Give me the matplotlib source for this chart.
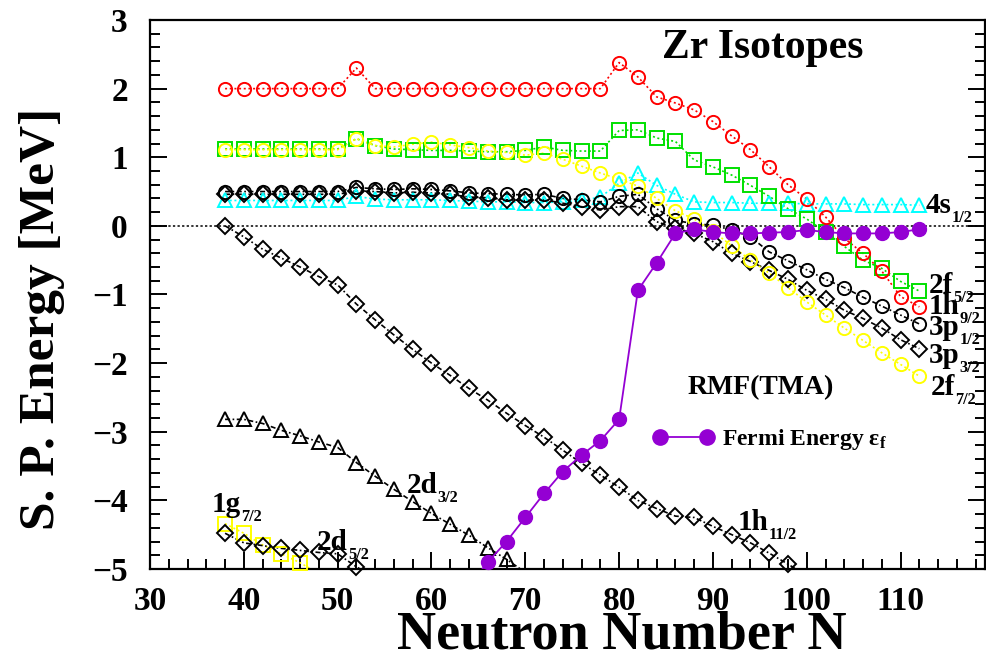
import numpy as np
import matplotlib
matplotlib.use("Agg")
import matplotlib.pyplot as plt

plt.rcParams["font.family"] = ["Liberation Serif", "DejaVu Serif"]
plt.rcParams["font.weight"] = "bold"
plt.rcParams["axes.labelweight"] = "bold"
plt.rcParams["mathtext.fontset"] = "custom"
plt.rcParams["mathtext.rm"] = "Liberation Serif:bold"
plt.rcParams["mathtext.it"] = "Liberation Serif:bold"
plt.rcParams["mathtext.bf"] = "Liberation Serif:bold"

# neutron numbers of the calculated isotopes
N_all = [38, 40, 42, 44, 46, 48, 50, 52, 54, 56, 58, 60, 62, 64, 66, 68, 70, 72, 74,
         76, 78, 80, 82, 84, 86, 88, 90, 92, 94, 96, 98, 100, 102, 104, 106, 108, 110, 112]

e_1h92 = [2.00, 2.00, 2.00, 2.00, 2.00, 2.00, 2.00, 2.30, 2.00, 2.00, 2.00, 2.00, 2.00,
          2.00, 2.00, 2.00, 2.00, 2.00, 2.00, 2.00, 2.00, 2.38, 2.17, 1.88, 1.79, 1.69,
          1.52, 1.31, 1.11, 0.86, 0.60, 0.39, 0.13, -0.18, -0.40, -0.66, -1.03, -1.18]
e_2f52 = [1.12, 1.12, 1.12, 1.12, 1.12, 1.12, 1.12, 1.27, 1.17, 1.12, 1.11, 1.10, 1.10,
          1.09, 1.08, 1.08, 1.10, 1.15, 1.10, 1.09, 1.09, 1.39, 1.40, 1.28, 1.23, 0.96,
          0.86, 0.74, 0.59, 0.43, 0.25, 0.10, -0.09, -0.30, -0.50, -0.62, -0.81, -0.95]
e_2f72 = [1.11, 1.11, 1.11, 1.11, 1.11, 1.11, 1.11, 1.27, 1.17, 1.15, 1.19, 1.22, 1.18,
          1.14, 1.09, 1.07, 1.03, 1.06, 0.97, 0.87, 0.77, 0.68, 0.58, 0.40, 0.22, 0.10,
          -0.08, -0.29, -0.50, -0.69, -0.90, -1.11, -1.30, -1.49, -1.67, -1.85, -2.02, -2.19]
e_4s12 = [0.37, 0.37, 0.37, 0.37, 0.37, 0.37, 0.37, 0.43, 0.39, 0.38, 0.38, 0.38, 0.37,
          0.36, 0.35, 0.35, 0.34, 0.34, 0.35, 0.37, 0.42, 0.62, 0.77, 0.59, 0.46, 0.35,
          0.34, 0.34, 0.33, 0.33, 0.33, 0.32, 0.32, 0.32, 0.31, 0.31, 0.31, 0.30]
e_3p12 = [0.50, 0.50, 0.50, 0.50, 0.50, 0.50, 0.50, 0.56, 0.54, 0.53, 0.54, 0.53, 0.51,
          0.48, 0.47, 0.46, 0.45, 0.46, 0.40, 0.38, 0.35, 0.43, 0.46, 0.25, 0.08, 0.03,
          0.01, -0.06, -0.16, -0.38, -0.51, -0.64, -0.78, -0.90, -1.04, -1.17, -1.30, -1.43]
e_3p32 = [0.46, 0.46, 0.46, 0.46, 0.46, 0.46, 0.46, 0.51, 0.50, 0.48, 0.49, 0.48, 0.46,
          0.42, 0.41, 0.38, 0.37, 0.38, 0.33, 0.28, 0.23, 0.28, 0.28, 0.06, -0.03, -0.11,
          -0.23, -0.40, -0.52, -0.65, -0.78, -0.94, -1.07, -1.23, -1.35, -1.49, -1.66, -1.79]

N_1h112 = N_all[:32]
e_1h112 = [0.00, -0.16, -0.34, -0.47, -0.60, -0.74, -0.86, -1.14, -1.37, -1.59, -1.80,
           -2.00, -2.18, -2.37, -2.54, -2.73, -2.91, -3.08, -3.27, -3.46, -3.63, -3.81,
           -4.00, -4.12, -4.23, -4.25, -4.38, -4.50, -4.62, -4.77, -4.93, -5.10]
N_2d32 = N_all[:17]
e_2d32 = [-2.82, -2.82, -2.88, -2.98, -3.06, -3.15, -3.23, -3.45, -3.65, -3.84, -4.02,
          -4.19, -4.35, -4.51, -4.69, -4.86, -5.05]
N_1g72 = N_all[:6]
e_1g72 = [-4.34, -4.48, -4.65, -4.78, -4.91, -5.07]
N_2d52 = N_all[:9]
e_2d52 = [-4.48, -4.62, -4.66, -4.70, -4.73, -4.76, -4.78, -4.97, -5.12]

N_fermi = N_all[13:]
e_fermi = [-5.25, -4.90, -4.60, -4.25, -3.90, -3.58, -3.34, -3.13, -2.82, -0.94, -0.54,
           -0.11, -0.05, -0.09, -0.11, -0.11, -0.10, -0.09, -0.06, -0.09, -0.11, -0.11,
           -0.11, -0.09, -0.05]

YMIN, YMAX = -5, 3

fig = plt.figure(figsize=(9.87, 6.67), dpi=100)
ax = fig.add_axes([0.152, 0.147, 0.846, 0.823])


def level(x, y, color, marker, ls, ms=9.5):
    x = np.asarray(x)
    y = np.asarray(y)
    ax.plot(x, y, color=color, ls=ls, lw=1.2, zorder=2)
    inside = (y >= YMIN - 0.02) & (y <= YMAX)
    ax.plot(x[inside], y[inside], ls="none", marker=marker, ms=ms, mfc="none",
            mec=color, mew=1.4, clip_on=False, zorder=3)


dots = (0, (1.2, 1.6))
dashdot = (0, (3, 1.5, 1, 1.5))

ax.axhline(0, color="black", ls=(0, (1.5, 1.5)), lw=1.1, zorder=1)

level(N_1g72, e_1g72, "#ffff00", "s", dots)
level(N_2d52, e_2d52, "black", "D", dashdot, ms=8)
level(N_2d32, e_2d32, "black", "^", dashdot, ms=10)
level(N_1h112, e_1h112, "black", "D", dashdot, ms=8)
level(N_all, e_4s12, "#00ffff", "^", dots, ms=10)
level(N_all, e_3p32, "black", "D", dashdot, ms=8)
level(N_all, e_3p12, "black", "o", dashdot)
level(N_all, e_2f52, "#00e000", "s", dots)
level(N_all, e_2f72, "#ffff00", "o", dots)
level(N_all, e_1h92, "#ff0000", "o", dots)

fx = np.asarray(N_fermi)
fy = np.asarray(e_fermi)
ax.plot(fx, fy, color="#9400d3", lw=1.3, zorder=4)
ok = fy >= YMIN
ax.plot(fx[ok], fy[ok], ls="none", marker="o", ms=10, color="#9400d3",
        clip_on=False, zorder=5)
fermi_handle, = ax.plot([], [], color="#9400d3", lw=1.3, marker="o", ms=11)

ax.legend([fermi_handle], ["Fermi Energy \u03b5$_\\mathregular{f}$"], loc="center left",
          bbox_to_anchor=(0.602, 0.235), frameon=False, numpoints=2, fontsize=17,
          handlelength=2.6, handletextpad=0.35, borderpad=0, borderaxespad=0)

ax.set_xlim(30, 119)
ax.set_ylim(YMIN, YMAX)
ax.set_xticks(range(30, 120, 10))
ax.set_xticks(range(30, 120, 2), minor=True)
ax.set_yticks(range(-5, 4))
ax.set_yticks(np.arange(-5, 3.01, 0.2), minor=True)
ax.tick_params(which="both", direction="in", right=True, top=False, width=1.4,
               labelsize=24)
ax.tick_params(which="major", length=12)
ax.tick_params(which="minor", length=7)
ax.tick_params(axis="x", pad=12)
ax.tick_params(axis="y", pad=16)
for s in ax.spines.values():
    s.set_linewidth(1.6)

ax.set_xlabel("Neutron Number N", fontsize=39, fontweight="bold")
ax.set_ylabel("S. P. Energy [MeV]", fontsize=37, fontweight="bold")
ax.xaxis.label.set_va("center")
ax.yaxis.label.set_va("center")
ax.xaxis.set_label_coords(0.565, -0.122)
ax.yaxis.set_label_coords(-0.129, 0.455)

ax.text(84.6, 2.45, "Zr Isotopes", fontsize=30)
ax.text(87.3, -2.45, "RMF(TMA)", fontsize=20)

renderer = fig.canvas.get_renderer()


def level_label(x, y, base, sub, size=21):
    t = ax.text(x, y, base, fontsize=size, va="baseline")
    w = t.get_window_extent(renderer=renderer).width * 72 / fig.dpi
    ax.annotate(sub, (x, y), xytext=(w, -0.3 * size), textcoords="offset points",
                fontsize=0.56 * size, va="baseline")


level_label(112.7, 0.19, "4s", "1/2")
level_label(113.0, -0.98, "2f", "5/2")
level_label(113.0, -1.29, "1h", "9/2")
level_label(113.0, -1.59, "3p", "1/2")
level_label(113.0, -2.00, "3p", "3/2")
level_label(113.2, -2.47, "2f", "7/2")
level_label(92.6, -4.43, "1h", "11/2")
level_label(57.4, -3.90, "2d", "3/2")
level_label(36.6, -4.17, "1g", "7/2")
level_label(47.8, -4.73, "2d", "5/2")

fig.savefig("out.png", dpi=100)
